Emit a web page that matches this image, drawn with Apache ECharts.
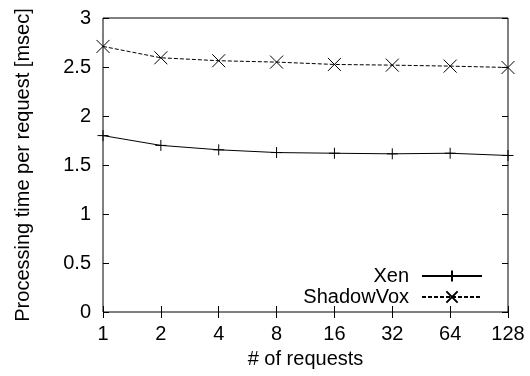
<!DOCTYPE html>
<html>
<head>
<meta charset="utf-8">
<script src="https://cdn.jsdelivr.net/npm/echarts@6/dist/echarts.min.js"></script>
<style>html,body{margin:0;padding:0;background:#fff}#c{width:530px;height:376px}</style>
</head>
<body>
<div id="c"></div>
<script>
const categories = ['1', '2', '4', '8', '16', '32', '64', '128'];
const xenValues = [1.80, 1.70, 1.655, 1.627, 1.62, 1.614, 1.62, 1.597];
const shadowVoxValues = [2.71, 2.594, 2.564, 2.55, 2.526, 2.519, 2.509, 2.495];
const yMin = 0, yMax = 3, yInterval = 0.5;
const xTitle = '# of requests';
const yTitle = 'Processing time per request [msec]';

const FONT = 'Liberation Sans';
const FS = 20;
const chart = echarts.init(document.getElementById('c'));
const tick = { show: true, inside: true, length: 6, lineStyle: { color: '#000', width: 1 } };
chart.setOption({
  animation: false,
  backgroundColor: '#fff',
  textStyle: { fontFamily: FONT, color: '#000' },
  grid: { left: 103, right: 22, top: 18, bottom: 64, show: true, borderColor: '#000', borderWidth: 1, backgroundColor: 'transparent' },
  legend: {
    orient: 'vertical', align: 'right', right: 42, top: 261, itemWidth: 60, itemHeight: 14, itemGap: 1,
    textStyle: { fontFamily: FONT, fontSize: FS, color: '#000', padding: [0, 8, 0, 0] },
    data: ['Xen', 'ShadowVox']
  },
  xAxis: [
    {
      type: 'category', data: categories, boundaryGap: false, position: 'bottom',
      axisLine: { show: false }, axisTick: Object.assign({ interval: 0 }, tick),
      axisLabel: { interval: 0, margin: 12, fontFamily: FONT, fontSize: FS, color: '#000' },
      splitLine: { show: false },
      name: xTitle, nameLocation: 'middle', nameGap: 37,
      nameTextStyle: { fontFamily: FONT, fontSize: FS, color: '#000' }
    },
    {
      type: 'category', data: categories, boundaryGap: false, position: 'top',
      axisLine: { show: false }, axisTick: Object.assign({ interval: 0 }, tick),
      axisLabel: { show: false }, splitLine: { show: false }
    }
  ],
  yAxis: [
    {
      type: 'value', min: yMin, max: yMax, interval: yInterval, position: 'left',
      axisLine: { show: false }, axisTick: tick,
      axisLabel: { margin: 12, fontFamily: FONT, fontSize: FS, color: '#000' },
      splitLine: { show: false },
      name: yTitle, nameLocation: 'middle', nameGap: 70, nameRotate: 90,
      nameTextStyle: { fontFamily: FONT, fontSize: FS, color: '#000' }
    },
    {
      type: 'value', min: yMin, max: yMax, interval: yInterval, position: 'right',
      axisLine: { show: false }, axisTick: tick,
      axisLabel: { show: false }, splitLine: { show: false }
    }
  ],
  series: [
    {
      name: 'Xen', type: 'line', data: xenValues, xAxisIndex: 0, yAxisIndex: 0,
      symbol: 'path://M0,5L10,5M5,0L5,10', symbolSize: 11, showAllSymbol: true,
      lineStyle: { color: '#000', width: 1, type: 'solid' },
      itemStyle: { color: '#000', borderColor: '#000', borderWidth: 1 },
      emphasis: { disabled: true }
    },
    {
      name: 'ShadowVox', type: 'line', data: shadowVoxValues, xAxisIndex: 0, yAxisIndex: 0,
      symbol: 'path://M0,0L10,10M10,0L0,10', symbolSize: 13, showAllSymbol: true,
      lineStyle: { color: '#000', width: 1, type: [4, 2] },
      itemStyle: { color: '#000', borderColor: '#000', borderWidth: 1 },
      emphasis: { disabled: true }
    }
  ]
});
</script>
</body>
</html>
